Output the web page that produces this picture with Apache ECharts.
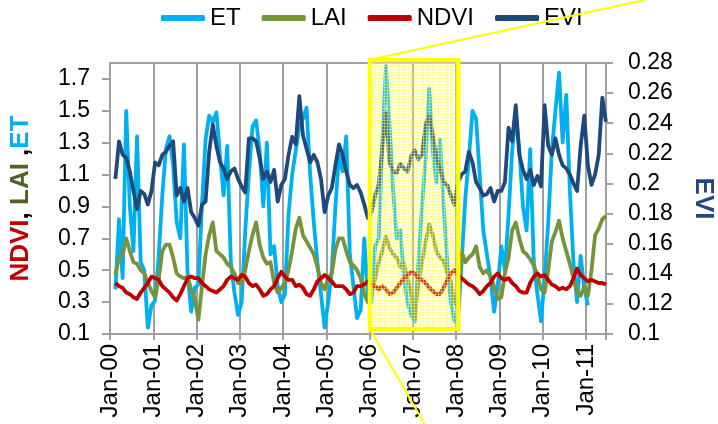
<!DOCTYPE html>
<html><head><meta charset="utf-8">
<script src="https://cdn.jsdelivr.net/npm/echarts@6/dist/echarts.min.js"></script>
<style>html,body{margin:0;padding:0;background:#fff}#c{width:718px;height:424px}</style>
</head><body><div id="c"></div>
<script>
// monthly values, Feb 2000 .. Jun 2011
const startYear = 2000;
const firstMonth = 2;
const etValues = [
  0.38,0.82,0.45,1.50,0.90,0.62,1.34,0.55,0.50,0.14,0.28,
  0.31,0.59,0.97,1.26,1.34,1.16,0.80,0.70,1.29,0.49,0.24,0.39,
  0.41,0.91,1.32,1.47,1.43,1.49,1.22,0.97,1.28,0.55,0.36,0.22,
  0.30,0.75,1.10,1.40,1.44,1.25,0.90,1.30,0.60,0.65,0.40,0.30,
  0.35,0.85,1.10,1.25,1.40,1.45,1.52,1.10,0.80,0.55,0.35,0.14,
  0.30,0.50,0.90,1.22,1.12,1.34,0.60,0.40,0.20,0.25,0.70,0.35,
  0.30,0.65,0.70,1.30,1.78,1.42,1.00,0.70,0.75,0.45,0.30,0.22,
  0.18,0.55,0.90,1.20,1.64,1.25,1.05,1.32,0.90,0.55,0.30,0.18,
  0.20,0.55,0.95,1.20,1.50,1.45,1.10,0.75,0.60,0.45,0.24,0.40,
  0.65,0.50,0.85,1.25,1.47,1.25,0.90,0.75,1.26,0.55,0.35,0.18,
  0.45,0.80,1.25,1.50,1.74,1.30,1.60,1.00,0.55,0.30,0.59,0.39,
  0.28,null,null,null,null,null
];
const laiValues = [
  0.47,0.58,0.60,0.70,0.62,0.55,0.54,0.50,0.48,0.42,0.37,
  0.33,0.44,0.62,0.66,0.66,0.58,0.48,0.46,0.45,0.46,0.38,0.32,
  0.19,0.40,0.60,0.72,0.80,0.62,0.60,0.58,0.54,0.52,0.48,0.42,
  0.42,0.50,0.62,0.72,0.80,0.66,0.58,0.54,0.55,0.42,0.36,0.39,
  0.42,0.50,0.62,0.76,0.83,0.72,0.68,0.64,0.60,0.52,0.42,0.38,
  0.45,0.48,0.63,0.70,0.70,0.62,0.55,0.53,0.50,0.45,0.35,0.30,
  0.35,0.45,0.55,0.62,0.71,0.64,0.60,0.58,0.52,0.54,0.45,0.35,
  0.20,0.42,0.55,0.68,0.79,0.72,0.62,0.58,0.56,0.48,0.43,0.30,
  0.27,0.62,0.55,0.58,0.60,0.65,0.52,0.48,0.50,0.46,0.40,0.32,
  0.33,0.48,0.58,0.75,0.80,0.70,0.62,0.60,0.57,0.53,0.47,0.38,
  0.36,0.50,0.68,0.74,0.81,0.70,0.62,0.54,0.45,0.36,0.34,0.40,
  0.34,0.50,0.72,0.76,0.82,0.84
];
const ndviValues = [
  0.42,0.40,0.39,0.36,0.35,0.33,0.32,0.36,0.39,0.42,0.46,
  0.45,0.44,0.40,0.38,0.36,0.33,0.31,0.35,0.40,0.45,0.46,0.45,
  0.45,0.42,0.40,0.38,0.37,0.36,0.38,0.40,0.44,0.46,0.45,0.44,
  0.47,0.46,0.42,0.40,0.41,0.38,0.34,0.35,0.38,0.40,0.45,0.49,
  0.46,0.44,0.44,0.40,0.41,0.39,0.35,0.34,0.38,0.43,0.45,0.47,
  0.45,0.43,0.40,0.40,0.40,0.38,0.35,0.36,0.40,0.40,0.41,0.43,
  0.41,0.40,0.38,0.40,0.38,0.35,0.36,0.39,0.42,0.45,0.47,0.49,
  0.48,0.45,0.44,0.42,0.39,0.37,0.35,0.35,0.39,0.44,0.48,0.50,
  0.47,0.45,0.43,0.41,0.40,0.38,0.35,0.37,0.40,0.42,0.46,0.48,
  0.45,0.44,0.45,0.42,0.40,0.37,0.36,0.36,0.42,0.46,0.48,0.46,
  0.47,0.44,0.41,0.40,0.38,0.39,0.38,0.40,0.45,0.51,0.47,0.45,
  0.43,0.44,0.43,0.42,0.42,0.41
];
const eviValues = [
  0.203,0.228,0.219,0.217,0.208,0.195,0.183,0.195,0.193,0.186,0.195,
  0.214,0.212,0.219,0.221,0.225,0.228,0.192,0.197,0.188,0.197,0.181,0.177,
  0.172,0.186,0.188,0.221,0.239,0.225,0.214,0.210,0.203,0.208,0.210,0.203,
  0.198,0.194,0.230,0.230,0.228,0.217,0.203,0.208,0.201,0.209,0.188,0.199,
  0.203,0.219,0.231,0.226,0.258,0.232,0.223,0.214,0.219,0.214,0.203,0.181,
  0.192,0.197,0.212,0.226,0.219,0.208,0.199,0.197,0.199,0.194,0.186,0.177,
  0.181,0.192,0.199,0.223,0.247,0.214,0.208,0.207,0.213,0.210,0.208,0.218,
  0.222,0.216,0.219,0.239,0.245,0.232,0.217,0.210,0.201,0.199,0.192,0.186,
  0.201,0.206,0.208,0.221,0.214,0.201,0.197,0.192,0.193,0.197,0.188,0.195,
  0.195,0.201,0.237,0.228,0.252,0.219,0.209,0.203,0.209,0.199,0.205,0.198,
  0.252,0.225,0.219,0.230,0.219,0.212,0.210,0.206,0.200,0.195,0.225,0.245,
  0.212,0.199,0.206,0.219,0.257,0.241
];
const xTickLabels = ['Jan-00','Jan-01','Jan-02','Jan-03','Jan-04','Jan-05','Jan-06','Jan-07','Jan-08','Jan-09','Jan-10','Jan-11'];
const leftTicks = [0.1,0.3,0.5,0.7,0.9,1.1,1.3,1.5,1.7];
const rightTicks = [0.1,0.12,0.14,0.16,0.18,0.2,0.22,0.24,0.26,0.28];
const zoomWindow = {x0: 2006.0, x1: 2008.05, y0: 0.131, y1: 1.82};

const FONT = '"Liberation Sans", Arial, sans-serif';
function pairs(vals) {
  return vals.map((v, i) => [startYear + (firstMonth - 1 + i + 0.5) / 12, v]);
}
function lineSeries(name, vals, color, axis) {
  return {
    name, type: 'line', yAxisIndex: axis, data: pairs(vals), symbol: 'none',
    connectNulls: false, clip: true,
    lineStyle: {color, width: 3.8, join: 'round'}, itemStyle: {color}
  };
}
const gray = '#a0a0a0';
const chart = echarts.init(document.getElementById('c'), null, {renderer: 'canvas'});
chart.setOption({
  animation: false,
  textStyle: {fontFamily: FONT},
  legend: {
    data: ['ET', 'LAI', 'NDVI', 'EVI'], top: 1, left: 156,
    icon: 'roundRect', itemWidth: 44, itemHeight: 6, itemGap: 21,
    textStyle: {fontSize: 24, color: '#000', fontFamily: FONT}
  },
  grid: {left: 110, right: 112, top: 63, bottom: 90, show: true, borderColor: gray, borderWidth: 2,
         outerBoundsMode: 'none', containLabel: false},
  xAxis: {
    type: 'value', min: 2000, max: 2011.46, interval: 1,
    axisLine: {lineStyle: {color: gray, width: 2}},
    axisTick: {show: true, length: 6, lineStyle: {color: gray, width: 2}},
    splitLine: {show: true, lineStyle: {color: gray, width: 2}},
    axisLabel: {
      rotate: 90, fontSize: 24, color: '#000', margin: 10, fontFamily: FONT,
      formatter: v => Math.abs(v - Math.round(v)) < 1e-6 ? (xTickLabels[Math.round(v) - startYear] || '') : ''
    }
  },
  yAxis: [{
    type: 'value', position: 'left', min: 0.1, max: 1.8,
    axisLine: {show: true, lineStyle: {color: gray, width: 2}},
    axisTick: {show: true, length: 8, customValues: leftTicks, lineStyle: {color: gray, width: 2}},
    axisLabel: {customValues: leftTicks, fontSize: 23, color: '#000', margin: 20, fontFamily: FONT, formatter: v => v.toFixed(1)},
    splitLine: {show: false},
    name: '{n|NDVI}{k|, }{l|LAI}{k| ,}{e|ET}', nameLocation: 'middle', nameGap: 76, nameRotate: 90,
    nameTextStyle: {
      fontSize: 26, fontWeight: 'bold', fontFamily: FONT,
      rich: {
        n: {color: '#C00000', fontSize: 26, fontWeight: 'bold', fontFamily: FONT},
        k: {color: '#000', fontSize: 26, fontWeight: 'bold', fontFamily: FONT},
        l: {color: '#4F6228', fontSize: 26, fontWeight: 'bold', fontFamily: FONT},
        e: {color: '#00B0F0', fontSize: 26, fontWeight: 'bold', fontFamily: FONT}
      }
    }
  }, {
    type: 'value', position: 'right', min: 0.1, max: 0.28,
    axisLine: {show: true, lineStyle: {color: gray, width: 2}},
    axisTick: {show: true, length: 7, customValues: rightTicks, lineStyle: {color: gray, width: 2}},
    axisLabel: {customValues: rightTicks, fontSize: 23, color: '#000', margin: 22, fontFamily: FONT, formatter: v => String(+v.toFixed(2))},
    splitLine: {show: false},
    name: 'EVI', nameLocation: 'middle', nameGap: 84, nameRotate: -90,
    nameTextStyle: {fontSize: 26, fontWeight: 'bold', color: '#1F497D', fontFamily: FONT}
  }],
  series: [
    lineSeries('ET', etValues, '#00B0F0', 0),
    lineSeries('LAI', laiValues, '#77933C', 0),
    lineSeries('NDVI', ndviValues, '#C00000', 0),
    lineSeries('EVI', eviValues, '#1F497D', 1)
  ]
});

// zoom-window highlight and callout lines
const tl = chart.convertToPixel({xAxisIndex: 0, yAxisIndex: 0}, [zoomWindow.x0, zoomWindow.y1]);
const br = chart.convertToPixel({xAxisIndex: 0, yAxisIndex: 0}, [zoomWindow.x1, zoomWindow.y0]);
const pc = document.createElement('canvas');
pc.width = 3; pc.height = 3;
const g = pc.getContext('2d');
g.fillStyle = 'rgba(255,255,160,0.22)'; g.fillRect(0, 0, 3, 3);
g.fillStyle = 'rgba(255,255,80,0.45)'; g.fillRect(0, 0, 3, 1); g.fillRect(0, 0, 1, 3);
const H = chart.getHeight();
chart.setOption({
  graphic: [
    {type: 'rect', z: 100, shape: {x: tl[0], y: tl[1], width: br[0] - tl[0], height: br[1] - tl[1]},
     style: {fill: {image: pc, repeat: 'repeat'}, stroke: '#FFFF00', lineWidth: 4}},
    {type: 'line', z: 101, shape: {x1: tl[0], y1: tl[1], x2: tl[0] + tl[1] * 4.6, y2: 0},
     style: {stroke: '#FFFF00', lineWidth: 2}},
    {type: 'line', z: 101, shape: {x1: tl[0], y1: br[1], x2: tl[0] + (H - br[1]) * 55 / 95, y2: H},
     style: {stroke: '#FFFF00', lineWidth: 2}}
  ]
});
</script>
</body></html>
